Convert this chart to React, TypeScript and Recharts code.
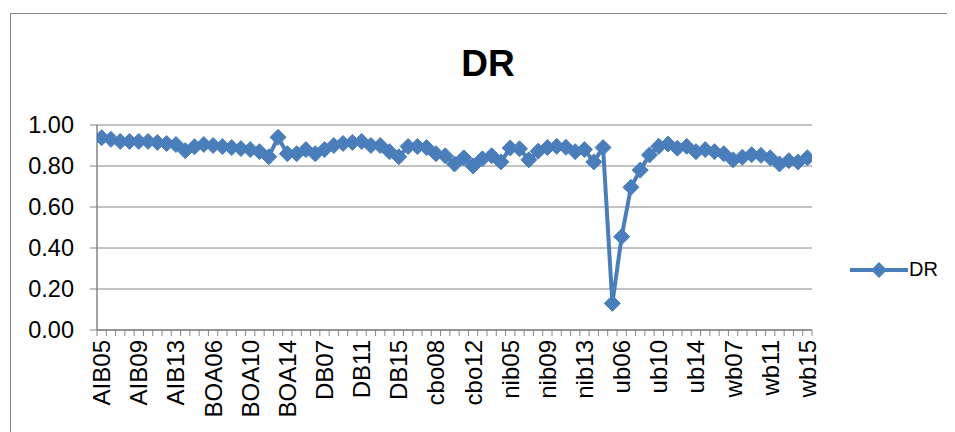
import React from 'react';
import { LineChart, Line, XAxis, YAxis, CartesianGrid, Legend } from 'recharts';

const banks = ['AIB', 'BOA', 'DB', 'cbo', 'nib', 'ub', 'wb'];
const years = ['05', '06', '07', '08', '09', '10', '11', '12', '13', '14', '15'];

const aibDR = [0.938, 0.93, 0.92, 0.92, 0.92, 0.92, 0.915, 0.91, 0.905, 0.875, 0.894];
const boaDR = [0.905, 0.9, 0.895, 0.89, 0.885, 0.88, 0.87, 0.845, 0.94, 0.86, 0.86];
const dbDR = [0.88, 0.86, 0.88, 0.9, 0.91, 0.915, 0.92, 0.9, 0.9, 0.87, 0.845];
const cboDR = [0.895, 0.895, 0.89, 0.86, 0.85, 0.81, 0.84, 0.8, 0.835, 0.85, 0.82];
const nibDR = [0.888, 0.884, 0.83, 0.872, 0.89, 0.896, 0.891, 0.87, 0.88, 0.82, 0.89];
const ubDR = [0.13, 0.455, 0.696, 0.78, 0.854, 0.896, 0.907, 0.887, 0.896, 0.87, 0.88];
const wbDR = [0.87, 0.86, 0.83, 0.843, 0.855, 0.852, 0.84, 0.81, 0.826, 0.82, 0.84];

const seriesByBank = [aibDR, boaDR, dbDR, cboDR, nibDR, ubDR, wbDR];
const yTicks = [0, 0.2, 0.4, 0.6, 0.8, 1.0];

const categories: string[] = [];
banks.forEach((b) => years.forEach((y) => categories.push(b + y)));

const data = categories.map((name, i) => ({
  name,
  x: i + 0.5,
  DR: seriesByBank[Math.floor(i / years.length)][i % years.length],
}));

// integer ticks = category boundaries (tick marks), half ticks = labelled categories
const xTicks: number[] = [];
categories.forEach((_, i) => {
  xTicks.push(i);
  if (i % 4 === 0) xTicks.push(i + 0.5);
});
xTicks.push(categories.length);

const BLUE = '#4A7EBB';
const GRAY = '#868686';
const FONT = '"Liberation Sans", Arial, sans-serif';

const Diamond = (props: any) => {
  const { cx, cy } = props;
  if (cx == null || cy == null) return null;
  const r = 8;
  return (
    <polygon
      points={`${cx},${cy - r} ${cx + r},${cy} ${cx},${cy + r} ${cx - r},${cy}`}
      fill={BLUE}
      stroke={BLUE}
      strokeWidth={1}
    />
  );
};

const XTick = (props: any) => {
  const { x, y, payload } = props;
  const v = payload.value as number;
  if (Number.isInteger(v)) {
    return <line x1={x} y1={y} x2={x} y2={y + 6} stroke={GRAY} strokeWidth={1} />;
  }
  const idx = Math.round(v - 0.5);
  const ty = y + 10;
  return (
    <text
      x={x}
      y={ty}
      transform={`rotate(-90, ${x}, ${ty})`}
      textAnchor="end"
      dominantBaseline="central"
      fontFamily={FONT}
      fontSize={24}
      fill="#000"
    >
      {categories[idx]}
    </text>
  );
};

const LegendContent = () => (
  <div style={{ display: 'flex', alignItems: 'center', fontFamily: FONT, fontSize: 20 }}>
    <svg width={58} height={20}>
      <line x1={0} y1={10} x2={58} y2={10} stroke={BLUE} strokeWidth={4} />
      <polygon points="29,2 37,10 29,18 21,10" fill={BLUE} />
    </svg>
    <span style={{ marginLeft: 1, color: '#000' }}>DR</span>
  </div>
);

export default function App() {
  return (
    <div style={{ position: 'relative', width: 947, height: 424, overflow: 'hidden', background: '#fff' }}>
      <div
        style={{
          position: 'absolute',
          left: 2,
          top: 5,
          width: 1000,
          height: 600,
          border: `1.5px solid ${GRAY}`,
          boxSizing: 'border-box',
        }}
      />
      <div
        style={{
          position: 'absolute',
          left: 380,
          top: 37,
          width: 200,
          textAlign: 'center',
          fontFamily: FONT,
          fontWeight: 'bold',
          fontSize: 37,
          lineHeight: '37px',
          color: '#000',
        }}
      >
        DR
      </div>
      <LineChart
        width={947}
        height={424}
        data={data}
        margin={{ top: 117, right: 143, bottom: 0, left: 0 }}
        style={{ position: 'absolute', left: 0, top: 0 }}
      >
        <CartesianGrid horizontal vertical={false} stroke={GRAY} strokeWidth={1} />
        <XAxis
          type="number"
          dataKey="x"
          domain={[0, categories.length]}
          ticks={xTicks}
          interval={0}
          tick={<XTick />}
          tickSize={0}
          tickMargin={0}
          tickLine={false}
          axisLine={{ stroke: GRAY, strokeWidth: 1.5 }}
          height={102}
          allowDataOverflow
        />
        <YAxis
          type="number"
          domain={[0, 1]}
          ticks={yTicks}
          interval={0}
          tickFormatter={(v: number) => v.toFixed(2)}
          tick={{ fontFamily: FONT, fontSize: 23.5, fill: '#000' }}
          tickSize={7}
          tickMargin={16}
          tickLine={{ stroke: GRAY }}
          axisLine={{ stroke: GRAY, strokeWidth: 1.5 }}
          width={89}
        />
        <Line
          type="linear"
          dataKey="DR"
          stroke={BLUE}
          strokeWidth={4}
          dot={<Diamond />}
          activeDot={false}
          isAnimationActive={false}
        />
        <Legend
          layout="horizontal"
          verticalAlign="middle"
          align="center"
          content={<LegendContent />}
          wrapperStyle={{ position: 'absolute', left: 842, top: 250, width: 100 }}
        />
      </LineChart>
    </div>
  );
}
